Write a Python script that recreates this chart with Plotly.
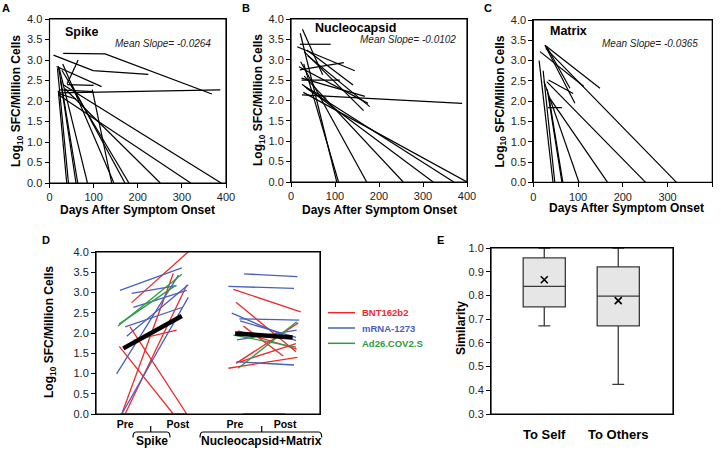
import plotly.graph_objects as go

W, H = 721, 450
FONT = "Liberation Sans, Arial, sans-serif"

# ---------------- Panel A: Spike ----------------
spike_days = [
    [31, 126, 368], [9, 99, 224], [20, 387], [40, 65], [16, 118], [24, 99], [40, 100],
    [20, 39], [18, 43], [25, 60], [20, 64], [22, 86], [97, 141], [30, 146], [50, 171],
    [28, 180], [35, 251], [20, 320], [30, 389], [20, 60],
]
spike_vals = [
    [3.16, 3.15, 2.17], [3.12, 2.74, 2.65], [2.2, 2.27], [2.42, 3.0], [2.84, 2.35], [2.27, 2.23], [2.4, 2.38],
    [2.25, 0], [2.8, 0], [2.5, 0], [2.85, 0], [2.8, 0], [2.28, 0], [2.9, 0], [2.4, 0],
    [2.75, 0], [2.3, 0], [2.15, 0], [2.4, 0], [2.18, 2.05],
]
spike_slope = "-0.0264"

# ---------------- Panel B: Nucleocapsid ----------------
nuc_days = [
    [26, 72], [21, 104], [20, 90], [14, 145], [36, 141], [38, 179], [25, 389], [20, 120],
    [24, 111], [24, 168], [29, 108], [22, 172], [30, 255], [25, 323], [35, 370], [28, 400],
    [18, 175], [30, 165], [30, 80],
]
nuc_vals = [
    [3.75, 2.63], [3.65, 0], [3.38, 3.38], [3.32, 2.73], [3.24, 2.38], [3.1, 1.85], [2.14, 1.93], [2.75, 2.93],
    [2.5, 2.5], [2.55, 2.1], [2.9, 0], [2.95, 0], [2.6, 0], [2.4, 0], [2.3, 0], [2.2, 0],
    [2.83, 1.93], [3.2, 1.75], [2.35, 2.05],
]
nuc_slope = "-0.0102"

# ---------------- Panel C: Matrix ----------------
mat_days = [
    [26, 149], [15, 113], [26, 93], [30, 82], [28, 320], [34, 89], [30, 251], [37, 166],
    [24, 102], [13, 44], [22, 48], [31, 64], [35, 66], [33, 64],
]
mat_vals = [
    [3.38, 2.32], [3.22, 2.36], [3.38, 1.95], [3.34, 2.32], [3.3, 0], [2.52, 2.19], [2.48, 0], [2.07, 0],
    [2.48, 0], [3.0, 0], [2.75, 0], [2.3, 0], [2.1, 0], [1.84, 1.84],
]
mat_slope = "-0.0365"

# ---------------- Panel D: pre/post vaccination ----------------
vaccines = ["BNT162b2", "mRNA-1273", "Ad26.COV2.S"]
vac_colors = ["#ee2a2a", "#4a5fbb", "#2e9a46"]
# each line: vaccine index, x of pre point, x of post point, pre value, post value
d_vac = [0, 0, 0, 0, 0, 0, 0,
         1, 1, 1, 1, 1, 1, 1,
         2, 2,
         1, 1, 0, 1, 1, 0, 1, 0, 1, 2, 2, 0, 0, 0, 1, 0, 0]
d_xpre = [1.59, 1.15, 1.30, 1.04, 1.52, 1.67, 1.10,
          1.07, 1.59, 1.67, 1.30, 1.37, 0.92, 1.15,
          0.98, 1.03,
          6.61, 5.91, 6.13, 6.40, 6.06, 6.25, 6.43, 6.58, 6.29, 6.13, 6.35, 6.25, 5.91, 6.43, 6.28, 6.34, 6.55]
d_xpost = [4.15, 3.45, 4.05, 3.45, 4.05, 3.60, 4.05,
           3.83, 3.60, 4.05, 3.83, 4.12, 3.68, 4.12,
           3.83, 3.54,
           8.99, 8.84, 9.14, 9.08, 8.93, 8.93, 8.93, 8.36, 8.96, 8.93, 8.96, 9.03, 8.99, 8.93, 8.84, 8.96, 8.44]
d_pre = [2.75, 0.0, 0.0, 1.67, 2.15, 1.82, 0.0,
         3.05, 2.98, 2.63, 2.15, 1.92, 0.99, 0.0,
         2.17, 2.22,
         3.46, 3.15, 3.08, 2.35, 2.49, 2.76, 2.30, 2.17, 1.83, 1.95, 1.13, 1.25, 1.13, 1.29, 1.29, 2.05, 0.0]
d_post = [4.02, 3.47, 3.18, 0.0, 0.0, 2.07, 0.0,
          3.61, 3.17, 3.05, 2.63, 3.19, 3.43, 2.88,
          3.45, 3.17,
          3.39, 3.10, 2.52, 2.32, 1.81, 1.54, 1.89, 1.43, 2.07, 1.65, 2.28, 2.25, 1.40, 1.74, 1.21, 1.60, 0.0]
mean_xpre = [1.22, 6.21]
mean_xpost = [3.83, 8.78]
mean_pre = [1.62, 1.99]
mean_post = [2.42, 1.89]
d_ticks = [1.3, 3.66, 6.2, 8.44]
d_ticktext = ["Pre", "Post", "Pre", "Post"]

# ---------------- Panel E: similarity ----------------
e_cats = ["To Self", "To Others"]
e_low = [0.672, 0.425]
e_q1 = [0.752, 0.672]
e_med = [0.838, 0.797]
e_q3 = [0.958, 0.920]
e_high = [1.0, 1.0]
e_mean = [0.866, 0.778]


def px_x(p):
    return p / W


def px_y(p):
    return 1 - p / H


def segs(days, vals):
    xs, ys = [], []
    for d, v in zip(days, vals):
        xs += list(d) + [None]
        ys += list(v) + [None]
    return xs, ys


fig = go.Figure()

for i, (dd, vv) in enumerate([(spike_days, spike_vals), (nuc_days, nuc_vals), (mat_days, mat_vals)]):
    xs, ys = segs(dd, vv)
    sfx = "" if i == 0 else str(i + 1)
    fig.add_trace(go.Scatter(x=xs, y=ys, mode="lines", line=dict(color="black", width=1.2),
                             xaxis="x" + sfx, yaxis="y" + sfx, showlegend=False, hoverinfo="skip"))

# Panel D lines by vaccine
for k, (name, col) in enumerate(zip(vaccines, vac_colors)):
    xs, ys = [], []
    for v, a, b, p, q in zip(d_vac, d_xpre, d_xpost, d_pre, d_post):
        if v == k:
            xs += [a, b, None]
            ys += [p, q, None]
    fig.add_trace(go.Scatter(x=xs, y=ys, mode="lines", line=dict(color=col, width=1.3),
                             xaxis="x4", yaxis="y4", name=name, showlegend=False))
xs, ys = [], []
for a, b, p, q in zip(mean_xpre, mean_xpost, mean_pre, mean_post):
    xs += [a, b, None]
    ys += [p, q, None]
fig.add_trace(go.Scatter(x=xs, y=ys, mode="lines", line=dict(color="black", width=4.5),
                         xaxis="x4", yaxis="y4", showlegend=False))

# Panel E
fig.add_trace(go.Box(x=e_cats, q1=e_q1, median=e_med, q3=e_q3, lowerfence=e_low, upperfence=e_high,
                     fillcolor="#e6e6e6", line=dict(color="#3a3a3a", width=1.3), width=0.57,
                     whiskerwidth=0.28, boxpoints=False, xaxis="x5", yaxis="y5", showlegend=False))
fig.add_trace(go.Scatter(x=e_cats, y=e_mean, mode="markers",
                         marker=dict(symbol="x-thin", size=7, line=dict(color="black", width=1.6)),
                         xaxis="x5", yaxis="y5", showlegend=False))

axis_common = dict(showline=True, mirror=True, linecolor="black", linewidth=1, showgrid=False,
                   zeroline=False, ticks="outside", ticklen=4, tickcolor="black", tickwidth=1,
                   automargin=False, tickfont=dict(family=FONT, size=11, color="#222"))

panels = {
    "": ((49.5, 226), (19, 183)),
    "2": ((291, 467), (19, 182)),
    "3": ((533.3, 712.3), (20, 182.3)),
}
layout = dict(width=W, height=H, margin=dict(l=0, r=0, t=0, b=0), paper_bgcolor="white",
              plot_bgcolor="white", font=dict(family=FONT), showlegend=False)
for sfx, ((x0, x1), (y0, y1)) in panels.items():
    layout["xaxis" + sfx] = dict(axis_common, domain=[px_x(x0), px_x(x1)], range=[0, 400], dtick=100,
                                 anchor="y" + sfx)
    layout["yaxis" + sfx] = dict(axis_common, domain=[px_y(y1), px_y(y0)], range=[0, 4], dtick=0.5,
                                 tickformat=".1f", anchor="x" + sfx)

layout["xaxis4"] = dict(axis_common, domain=[px_x(96), px_x(320)], range=[0, 10], anchor="y4",
                        tickvals=d_ticks, ticktext=["<b>%s</b>" % t for t in d_ticktext], ticks="",
                        tickfont=dict(family=FONT, size=10.5, color="black"))
layout["yaxis4"] = dict(axis_common, domain=[px_y(414), px_y(252)], range=[0, 4], dtick=0.5,
                        tickformat=".1f", anchor="x4")
layout["xaxis5"] = dict(axis_common, domain=[px_x(491), px_x(673)], range=[-0.72, 1.74], anchor="y5",
                        ticklen=8, tickcolor="rgba(0,0,0,0)",
                        tickvals=e_cats, ticktext=["<b>%s</b>" % c for c in e_cats],
                        tickfont=dict(family=FONT, size=13, color="black"))
layout["yaxis5"] = dict(axis_common, domain=[px_y(414), px_y(248)], range=[0.3, 1.0], dtick=0.1,
                        tickformat=".1f", anchor="x5")
fig.update_layout(**layout)

ann = []


def add_text(txt, x, y, size, xanchor="center", angle=0, color="black"):
    ann.append(dict(text=txt, x=px_x(x), y=px_y(y), xref="paper", yref="paper",
                    xanchor=xanchor, yanchor="middle", showarrow=False, textangle=angle,
                    font=dict(family=FONT, size=size, color=color)))


# panel letters
for txt, x, y in [("A", 0, 8), ("B", 240, 8), ("C", 482, 8), ("D", 40, 240), ("E", 435, 240)]:
    add_text("<b>%s</b>" % txt, x, y, 11, "left")
# panel titles
for txt, x, y in [("Spike", 63, 32), ("Nucleocapsid", 312.5, 28), ("Matrix", 548, 31)]:
    add_text("<b>%s</b>" % txt, x, y, 12.5, "left")
for slope, x, y in [(spike_slope, 213, 43), (nuc_slope, 458, 39), (mat_slope, 700, 43)]:
    add_text("<i>Mean Slope= %s</i>" % slope, x, y, 10, "right", color="#222")
# axis titles
ylab = "<b>Log<sub>10</sub> SFC/Million Cells</b>"
for x, y in [(17, 101), (259, 100), (500.5, 102), (50, 332)]:
    add_text(ylab, x, y, 12, angle=-90)
add_text("<b>Similarity</b>", 461, 328, 12, angle=-90)
for x, y in [(137.5, 210), (379, 210), (626, 208)]:
    add_text("<b>Days After Symptom Onset</b>", x, y, 12)
# bracket labels
for txt, x in [("Spike", 151.5), ("Nucleocapsid+Matrix", 261)]:
    add_text("<b>%s</b>" % txt, x, 441, 12)
# legend
for i, (name, col) in enumerate(zip(vaccines, vac_colors)):
    add_text("<b>%s</b>" % name, 360, 312.7 + 15.3 * i, 9.5, "left", color=col)
fig.update_layout(annotations=ann)

shapes = []
for x0, x1, xm in [(133, 170, 150.7), (200, 321.7, 261.7)]:
    yb, yt, yd = 432, 426, 437.5
    path = "M %f %f Q %f %f %f %f L %f %f Q %f %f %f %f" % (
        px_x(x0), px_y(yd), px_x(x0), px_y(yb), px_x(x0 + 3), px_y(yb),
        px_x(x1 - 3), px_y(yb), px_x(x1), px_y(yb), px_x(x1), px_y(yd))
    shapes.append(dict(type="path", path=path, xref="paper", yref="paper",
                       line=dict(color="black", width=1.2)))
    shapes.append(dict(type="line", x0=px_x(xm), x1=px_x(xm), y0=px_y(yb), y1=px_y(yt),
                       xref="paper", yref="paper", line=dict(color="black", width=1.2)))
# legend sample lines
for i, col in enumerate(vac_colors):
    y = px_y(312.7 + 15.3 * i)
    shapes.append(dict(type="line", x0=px_x(328), x1=px_x(355), y0=y, y1=y, xref="paper", yref="paper",
                       line=dict(color=col, width=1.5)))
# plot frames
for sfx in ["", "2", "3", "4", "5"]:
    shapes.append(dict(type="rect", xref="x%s domain" % sfx, yref="y%s domain" % sfx,
                       x0=0, x1=1, y0=0, y1=1, line=dict(color="black", width=1.2)))
fig.update_layout(shapes=shapes)

fig.write_html("out.html", config={"displayModeBar": False},
               post_script="document.body.style.margin='0';document.body.style.overflow='hidden';")
